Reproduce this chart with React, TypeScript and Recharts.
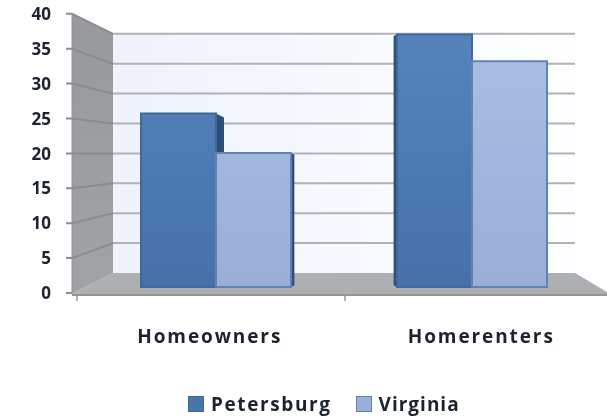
import React from 'react';
import { BarChart, Bar, XAxis, YAxis, Customized, Legend } from 'recharts';

const categories = ['Homeowners', 'Homerenters'];
const petersburg = [25.9, 37.7];
const virginia = [20, 33.7];
const yTicks = [0, 5, 10, 15, 20, 25, 30, 35, 40];

const data = categories.map((name, i) => ({ name, Petersburg: petersburg[i], Virginia: virginia[i] }));

const inkColor = '#1d2230';
const fontFamily = '"Open Sans", sans-serif';

// front edge of the side wall vs. back wall, px per unit
const frontY = (v: number) => 293 - 6.98 * v;
const backY = (v: number) => 273 - 5.98 * v;
const CENTER_X = 345;

const Wall = () => (
  <g>
    <defs>
      <linearGradient id="backWall" x1="0" y1="0" x2="1" y2="0">
        <stop offset="0" stopColor="#eef3fc" />
        <stop offset="1" stopColor="#fdfeff" />
      </linearGradient>
      <linearGradient id="sideWall" x1="0" y1="0" x2="0" y2="1">
        <stop offset="0" stopColor="#97999c" />
        <stop offset="1" stopColor="#a0a2a5" />
      </linearGradient>
      <linearGradient id="petersburgFill" gradientUnits="userSpaceOnUse" x1="0" y1="34" x2="0" y2="287">
        <stop offset="0" stopColor="#5583bb" />
        <stop offset="1" stopColor="#4671a9" />
      </linearGradient>
      <linearGradient id="virginiaFill" gradientUnits="userSpaceOnUse" x1="0" y1="34" x2="0" y2="287">
        <stop offset="0" stopColor="#a9bfe3" />
        <stop offset="1" stopColor="#9aaed6" />
      </linearGradient>
    </defs>
    <polygon points="113,34 575,34 575,273 113,273" fill="url(#backWall)" />
    <polygon points="72,14 113,34 113,273 72,294" fill="url(#sideWall)" />
    <polygon points="72,294 113,273 575,273 607,292 607,294" fill="#adafb2" />
    {yTicks.map((t) => (
      <g key={t} stroke="#b2b2b2" strokeWidth={2} fill="none">
        {t > 0 && <line x1={113} y1={backY(t)} x2={575} y2={backY(t)} />}
        {t > 0 ? (
          <polyline points={`66,${frontY(t)} 72,${frontY(t)} 113,${backY(t)}`} stroke="#8a8c8f" />
        ) : (
          <line x1={66} y1={frontY(t)} x2={72} y2={frontY(t)} stroke="#8a8c8f" />
        )}
      </g>
    ))}
    <line x1={72} y1={295} x2={607} y2={295} stroke="#949494" strokeWidth={2} />
    <line x1={72} y1={14} x2={72} y2={294} stroke="#8f9194" strokeWidth={1} />
    <line x1={77} y1={295} x2={77} y2={301} stroke="#999" strokeWidth={1.5} />
    <line x1={345} y1={295} x2={345} y2={301} stroke="#999" strokeWidth={1.5} />
  </g>
);

const Bar3D = (props: any) => {
  const { x, y, width, height, fillId, stroke, sideLeft } = props;
  const right = x + width;
  const bottom = y + height;
  let side = null;
  if (right < CENTER_X) {
    const d = (CENTER_X - right) * 0.062;
    side = (
      <polygon
        points={`${right},${y} ${right + d},${y + d / 2} ${right + d},${bottom - d / 2} ${right},${bottom}`}
        fill="#2c4e78"
      />
    );
  } else if (sideLeft && x > CENTER_X) {
    const d = (x - CENTER_X) * 0.065;
    side = (
      <polygon
        points={`${x},${y} ${x - d},${y + d / 2} ${x - d},${bottom - d / 2} ${x},${bottom}`}
        fill="#2c4e78"
      />
    );
  }
  return (
    <g>
      {side}
      <rect x={x} y={y} width={width} height={height} fill={`url(#${fillId})`} stroke={stroke} strokeWidth={2} />
    </g>
  );
};

const swatches: Record<string, { fill: string; stroke: string }> = {
  Petersburg: { fill: '#4a75ab', stroke: '#41689a' },
  Virginia: { fill: '#9aafd6', stroke: '#5f84b4' },
};

const LegendRow = ({ payload }: any) => (
  <div style={{ display: 'flex', alignItems: 'center', fontFamily, fontSize: 19, fontWeight: 700, color: inkColor, letterSpacing: 1.4 }}>
    {(payload || []).map((p: any, i: number) => (
      <div key={p.value} style={{ display: 'flex', alignItems: 'center', marginLeft: i ? 24 : 0 }}>
        <span
          style={{
            width: 14,
            height: 14,
            marginRight: 7,
            background: swatches[p.value].fill,
            border: `1px solid ${swatches[p.value].stroke}`,
          }}
        />
        <span style={{ letterSpacing: p.value === 'Virginia' ? 1 : 1.6 }}>{p.value}</span>
      </div>
    ))}
  </div>
);

export default function App() {
  return (
    <div style={{ position: 'absolute', left: 0, top: 0, width: 607, height: 420, overflow: 'hidden', background: '#fff' }}>
      <div style={{ filter: 'blur(0.5px)' }}>
        <BarChart
          width={617}
          height={420}
          data={data}
          margin={{ top: 14, right: 0, bottom: 87, left: 44 }}
          barCategoryGap={53}
          barGap={0}
        >
          <Customized component={<Wall />} />
          <XAxis
            dataKey="name"
            axisLine={false}
            tickLine={false}
            height={40}
            tickSize={0}
            tickMargin={37}
            interval={0}
            tick={{ fill: inkColor, fontSize: 19, fontWeight: 700, fontFamily, letterSpacing: 1.9 }}
          />
          <XAxis dataKey="name" xAxisId="bars" hide padding={{ left: 14, right: 17 }} />
          <YAxis
            width={30}
            domain={[0, 40]}
            allowDataOverflow
            ticks={yTicks}
            interval={0}
            axisLine={false}
            tickLine={false}
            tickSize={0}
            tickMargin={23}
            tick={{ fill: inkColor, fontSize: 17, fontWeight: 700, fontFamily }}
          />
          <YAxis yAxisId="bars" hide domain={[-0.9, 40.75]} allowDataOverflow />
          <Bar
            dataKey="Petersburg"
            xAxisId="bars"
            yAxisId="bars"
            fill="#4a75ab"
            isAnimationActive={false}
            shape={(p: any) => <Bar3D {...p} fillId="petersburgFill" stroke="#41689a" sideLeft />}
          />
          <Bar
            dataKey="Virginia"
            xAxisId="bars"
            yAxisId="bars"
            fill="#9aafd6"
            isAnimationActive={false}
            shape={(p: any) => <Bar3D {...p} fillId="virginiaFill" stroke="#5f84b4" />}
          />
          <Legend
            verticalAlign="middle"
            content={<LegendRow />}
            wrapperStyle={{ left: 188, top: 391, width: 300, bottom: 'auto' }}
          />
        </BarChart>
      </div>
    </div>
  );
}
